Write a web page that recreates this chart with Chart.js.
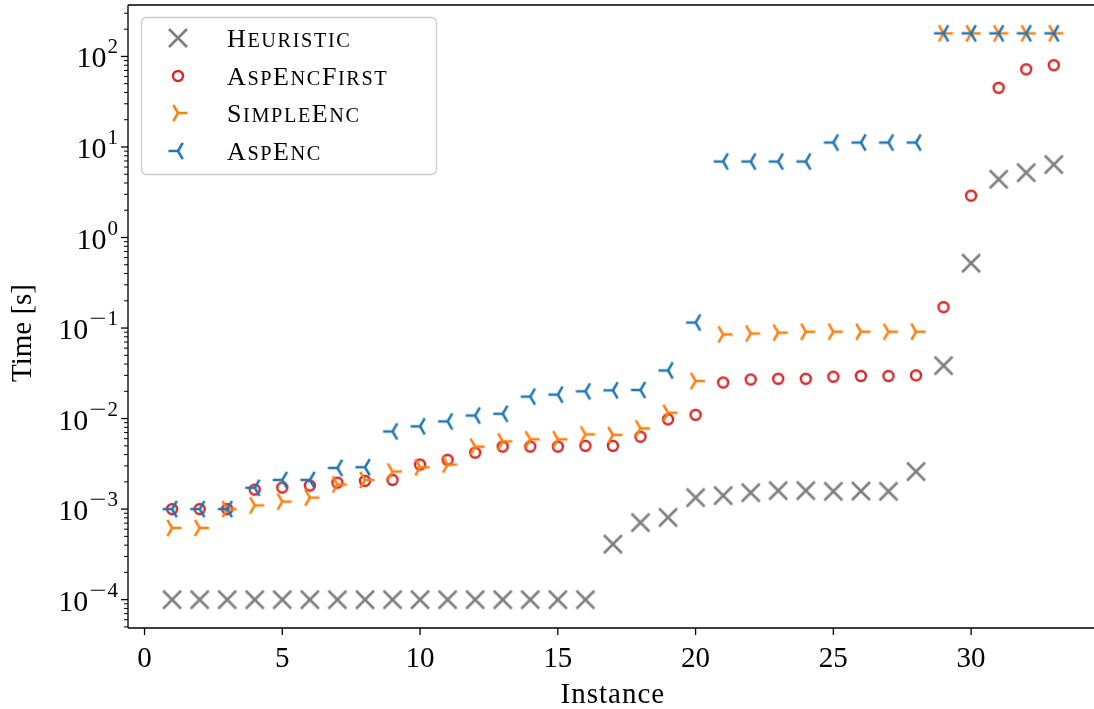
<!DOCTYPE html>
<html><head><meta charset="utf-8">
<script src="https://cdn.jsdelivr.net/npm/chart.js@4.4.1/dist/chart.umd.min.js"></script>
<style>html,body{margin:0;padding:0;background:#fff;overflow:hidden}#wrap{width:1094px;height:709px;position:relative}</style>
</head><body><div id="wrap"><canvas id="c" width="1094" height="709"></canvas></div>
<script>
// ---- data ----
const instances = [1,2,3,4,5,6,7,8,9,10,11,12,13,14,15,16,17,18,19,20,21,22,23,24,25,26,27,28,29,30,31,32,33];
const heuristic = [1e-4,1e-4,1e-4,1e-4,1e-4,1e-4,1e-4,1e-4,1e-4,1e-4,1e-4,1e-4,1e-4,1e-4,1e-4,1e-4,
  4.1e-4,7.1e-4,8.1e-4,1.34e-3,1.41e-3,1.52e-3,1.6e-3,1.6e-3,1.57e-3,1.58e-3,1.57e-3,2.6e-3,0.0385,0.52,4.4,5.2,6.4];
const aspEncFirst = [1.0e-3,1.0e-3,1.0e-3,1.64e-3,1.73e-3,1.82e-3,1.96e-3,2.05e-3,2.1e-3,3.1e-3,3.5e-3,4.2e-3,4.9e-3,4.9e-3,4.9e-3,5.0e-3,
  5.0e-3,6.3e-3,9.8e-3,1.1e-2,2.5e-2,2.7e-2,2.75e-2,2.75e-2,2.9e-2,2.95e-2,2.95e-2,3.0e-2,0.17,2.9,45,72,80];
const simpleEnc = [6.2e-4,6.2e-4,1.0e-3,1.1e-3,1.21e-3,1.34e-3,1.87e-3,2.1e-3,2.6e-3,2.9e-3,3.1e-3,4.9e-3,5.6e-3,5.9e-3,5.9e-3,6.7e-3,
  6.6e-3,7.8e-3,1.16e-2,2.6e-2,0.085,0.087,0.089,0.091,0.091,0.091,0.091,0.091,180,180,180,180,180];
const aspEnc = [1e-3,1e-3,1e-3,1.72e-3,2.1e-3,2.1e-3,2.85e-3,2.9e-3,7.2e-3,8.2e-3,9.3e-3,1.08e-2,1.13e-2,1.75e-2,1.84e-2,2.0e-2,
  2.05e-2,2.07e-2,3.4e-2,0.115,6.9,6.9,6.9,6.9,11.2,11.2,11.2,11.2,180,180,180,180,180];
const seriesNames = ['Heuristic','AspEncFirst','SimpleEnc','AspEnc'];
const xTicks = [0,5,10,15,20,25,30];
const yTicks = [1e-4,1e-3,1e-2,1e-1,1,10,100];
const xLabel = 'Instance';
const yLabel = 'Time [s]';

// ---- marker images ----
function mk(draw){const c=document.createElement('canvas');c.width=28;c.height=28;const g=c.getContext('2d');g.translate(14,14);draw(g);return c;}
const L = 9.5, S = 0.866;
const mX = mk(g=>{g.strokeStyle='#7f7f7f';g.lineWidth=2.6;g.beginPath();g.moveTo(-9,-9);g.lineTo(9,9);g.moveTo(-9,9);g.lineTo(9,-9);g.stroke();});
const mO = mk(g=>{g.strokeStyle='#d62728';g.lineWidth=2.4;g.beginPath();g.arc(0,0,5,0,Math.PI*2);g.stroke();});
const mTR = mk(g=>{g.strokeStyle='#ff7f0e';g.lineWidth=2.5;g.beginPath();g.moveTo(0,0);g.lineTo(L,0);g.moveTo(0,0);g.lineTo(-L/2,-L*S);g.moveTo(0,0);g.lineTo(-L/2,L*S);g.stroke();});
const mTL = mk(g=>{g.strokeStyle='#1f77b4';g.lineWidth=2.5;g.beginPath();g.moveTo(0,0);g.lineTo(-L,0);g.moveTo(0,0);g.lineTo(L/2,-L*S);g.moveTo(0,0);g.lineTo(L/2,L*S);g.stroke();});
const markers = [mX,mO,mTR,mTL];

const FAM = "'Liberation Serif', 'DejaVu Serif', serif";

function drawSC(ctx, text, x, y, size){
  let cx = x;
  for (const ch of text){
    const low = ch !== ch.toUpperCase();
    const s = low ? size*0.78 : size;
    ctx.font = s + 'px ' + FAM;
    const c = ch.toUpperCase();
    ctx.fillText(c, cx, y);
    cx += ctx.measureText(c).width + 1.6;
  }
}

const axesPlugin = {
  id:'axesDecor',
  afterDraw(chart){
    const ctx = chart.ctx, a = chart.chartArea, xs = chart.scales.x, ys = chart.scales.y;
    ctx.save();
    ctx.strokeStyle = '#000'; ctx.lineWidth = 1.3;
    ctx.beginPath();
    ctx.moveTo(a.left, a.top); ctx.lineTo(a.right+2, a.top);
    ctx.moveTo(a.left, a.top); ctx.lineTo(a.left, a.bottom);
    ctx.moveTo(a.left, a.bottom); ctx.lineTo(a.right+2, a.bottom);
    ctx.stroke();
    // x ticks
    ctx.fillStyle = '#000';
    ctx.textAlign = 'center'; ctx.textBaseline = 'alphabetic';
    ctx.font = '29px ' + FAM;
    for (const v of xTicks){
      const px = xs.getPixelForValue(v);
      ctx.beginPath(); ctx.moveTo(px, a.bottom); ctx.lineTo(px, a.bottom+7); ctx.stroke();
      ctx.fillText(String(v), px, a.bottom+39);
    }
    // y minor ticks
    ctx.lineWidth = 1;
    for (let d=-5; d<=2; d++){
      for (let m=2; m<=9; m++){
        const v = m*Math.pow(10,d);
        if (v < ys.min || v > ys.max) continue;
        const py = ys.getPixelForValue(v);
        ctx.beginPath(); ctx.moveTo(a.left-4, py); ctx.lineTo(a.left, py); ctx.stroke();
      }
    }
    // y major ticks + labels
    ctx.lineWidth = 1.3;
    ctx.textAlign = 'left';
    for (const v of yTicks){
      const py = ys.getPixelForValue(v);
      ctx.beginPath(); ctx.moveTo(a.left-7, py); ctx.lineTo(a.left, py); ctx.stroke();
      const e = Math.round(Math.log10(v));
      const ds = String(Math.abs(e));
      const right = a.left - 10;
      ctx.font = '21px ' + FAM;
      const wd = ctx.measureText(ds).width;
      const wm = e < 0 ? ctx.measureText('\u2212').width * 1.45 + 1 : 0;
      ctx.fillText(ds, right - wd, py - 3);
      if (e < 0){
        ctx.save();
        ctx.translate(right - wd - wm, py - 3);
        ctx.scale(1.45, 1);
        ctx.fillText('\u2212', 0, 0);
        ctx.restore();
      }
      ctx.font = '30px ' + FAM; const wb = ctx.measureText('10').width;
      ctx.fillText('10', right - wd - wm - wb - 1, py + 11);
    }
    // axis titles
    ctx.font = '29px ' + FAM; ctx.textAlign = 'center';
    ctx.save();
    ctx.letterSpacing = '1px';
    ctx.fillText(xLabel, xs.getPixelForValue(17), 703);
    ctx.restore();
    ctx.save();
    ctx.translate(31, 333); ctx.rotate(-Math.PI/2);
    ctx.fillText(yLabel, 0, 0);
    ctx.restore();
    // legend
    const bx=141.5, by=17.5, bw=295, bh=157, r=5;
    ctx.beginPath();
    ctx.moveTo(bx+r,by); ctx.lineTo(bx+bw-r,by); ctx.arcTo(bx+bw,by,bx+bw,by+r,r);
    ctx.lineTo(bx+bw,by+bh-r); ctx.arcTo(bx+bw,by+bh,bx+bw-r,by+bh,r);
    ctx.lineTo(bx+r,by+bh); ctx.arcTo(bx,by+bh,bx,by+bh-r,r);
    ctx.lineTo(bx,by+r); ctx.arcTo(bx,by,bx+r,by,r); ctx.closePath();
    ctx.fillStyle='rgba(255,255,255,0.8)'; ctx.fill();
    ctx.strokeStyle='#cccccc'; ctx.lineWidth=1.3; ctx.stroke();
    const rows=[38,76,113,151];
    ctx.fillStyle='#000'; ctx.textAlign='left';
    seriesNames.forEach((n,i)=>{
      const mkc = markers[i];
      ctx.drawImage(mkc, 178 - mkc.width/2, rows[i] - mkc.height/2);
      drawSC(ctx, n, 227, rows[i]+9, 26);
    });
    ctx.restore();
  }
};

const allSeries = [heuristic, aspEncFirst, simpleEnc, aspEnc];
const datasets = allSeries.map((s,i)=>({
  label: seriesNames[i],
  data: instances.map((x,j)=>({x:x, y:s[j]})),
  pointStyle: markers[i],
  pointRadius: 8,
  showLine: false,
  order: 3 - i
}));

new Chart(document.getElementById('c'), {
  type: 'scatter',
  data: { datasets },
  options: {
    responsive: false,
    animation: false,
    devicePixelRatio: 1,
    layout: { autoPadding: false, padding: { top: 5, right: 0, left: 0, bottom: 0 } },
    plugins: { legend: { display: false }, tooltip: { enabled: false } },
    scales: {
      x: { type:'linear', min:-0.6, max:34.46, grid:{display:false}, border:{display:false},
           ticks:{display:false}, afterFit(s){ s.height = 81; } },
      y: { type:'logarithmic', min:4.86e-5, max:370, grid:{display:false}, border:{display:false},
           ticks:{display:false}, afterFit(s){ s.width = 128; } }
    }
  },
  plugins: [axesPlugin]
});
</script>
</body></html>
